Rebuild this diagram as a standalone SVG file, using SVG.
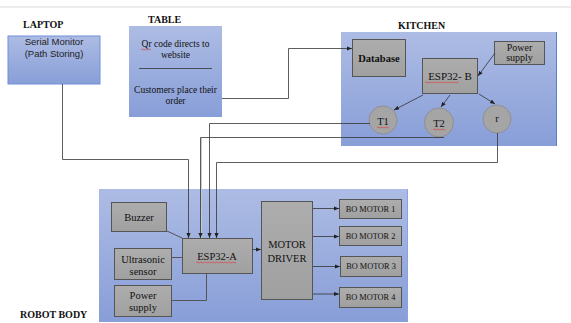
<svg xmlns="http://www.w3.org/2000/svg" width="571" height="323" viewBox="0 0 571 323">
<defs>
<linearGradient id="blue" x1="0" y1="0" x2="0" y2="1">
<stop offset="0" stop-color="#adbce4"/>
<stop offset="1" stop-color="#889ed8"/>
</linearGradient>
<linearGradient id="gray" x1="0" y1="0" x2="0" y2="1">
<stop offset="0" stop-color="#adadad"/>
<stop offset="1" stop-color="#a0a0a0"/>
</linearGradient>
<marker id="arr" viewBox="0 0 6 6" refX="6" refY="3" markerWidth="5" markerHeight="5" orient="auto" markerUnits="userSpaceOnUse">
<path d="M0,0.5 L6,3 L0,5.5 Z" fill="#222"/>
</marker>
<style>
.cont{fill:url(#blue);}
.box{fill:url(#gray);stroke:#555;stroke-width:1;}
.circ{fill:#a5a5a5;stroke:#8f8f8f;stroke-width:1;}
.t{font-family:"Liberation Serif","Times New Roman",serif;fill:#111;text-anchor:middle;}
.s{font-family:"Liberation Sans",Arial,sans-serif;fill:#222;text-anchor:middle;}
.lbl{font-family:"Liberation Serif","Times New Roman",serif;font-weight:bold;font-size:10px;fill:#111;}
.ln{fill:none;stroke:#555;stroke-width:1;}
.ar{fill:none;stroke:#333;stroke-width:0.8;marker-end:url(#arr);}
.sq{fill:none;stroke:#e03030;stroke-width:0.6;}
</style>
</defs>
<rect x="0" y="0" width="571" height="323" fill="#fff"/>
<line x1="0" y1="7" x2="571" y2="7" stroke="#dadada" stroke-width="1.2"/>

<text class="lbl" x="23" y="28">LAPTOP</text>
<text class="lbl" x="148" y="23">TABLE</text>
<text class="lbl" x="398" y="28.5">KITCHEN</text>
<text class="lbl" x="20" y="318">ROBOT BODY</text>

<g id="laptop">
<rect x="8" y="36" width="92" height="48" class="cont" stroke="#7090d8" stroke-width="1"/>
<text class="s" x="54" y="45" font-size="9.5">Serial Monitor</text>
<text class="s" x="54" y="57" font-size="9.5">(Path Storing)</text>
</g>

<g id="table">
<rect x="129" y="26" width="93" height="91" class="cont"/>
<text class="t" x="175.5" y="47" font-size="9.5">Qr code directs to</text>
<text class="t" x="175.5" y="58" font-size="9.5">website</text>
<line x1="139" y1="68.5" x2="212" y2="68.5" stroke="#333" stroke-width="0.8"/>
<text class="t" x="175.5" y="93" font-size="9.5">Customers place their</text>
<text class="t" x="175.5" y="104" font-size="9.5">order</text>
</g>

<g id="kitchen">
<rect x="341" y="32" width="216" height="114" class="cont"/>
<line x1="556.5" y1="32" x2="556.5" y2="146" stroke="#5a7fd0" stroke-width="1"/>
</g>
<g id="database">
<rect x="352.5" y="39.5" width="53" height="37" class="box" stroke="#777"/>
<text class="t" x="379" y="62" font-size="10.5" font-weight="bold">Database</text>
</g>
<g id="esp32b">
<rect x="422.5" y="58.5" width="55" height="35" class="box"/>
<text class="t" x="450" y="80" font-size="11">ESP32- B</text>
</g>
<g id="power-k">
<rect x="494.5" y="41.5" width="50" height="23" class="box"/>
<text class="t" x="519.5" y="50.5" font-size="10">Power</text>
<text class="t" x="519.5" y="61" font-size="10">supply</text>
</g>
<g id="t1">
<circle cx="383" cy="120" r="14" class="circ"/>
<text class="t" x="383" y="125" font-size="10.5">T1</text>
</g>
<g id="t2">
<circle cx="439" cy="122.5" r="14.5" class="circ"/>
<text class="t" x="439" y="127" font-size="10.5">T2</text>
</g>
<g id="r">
<circle cx="497" cy="119" r="14" class="circ"/>
<text class="t" x="497" y="122" font-size="10.5">r</text>
</g>

<g id="robot">
<rect x="99" y="189" width="309" height="133" class="cont"/>
<line x1="407.5" y1="189" x2="407.5" y2="322" stroke="#8aa3de" stroke-width="1"/>
</g>
<g id="buzzer">
<rect x="111.5" y="202.5" width="55" height="29" class="box"/>
<text class="t" x="139" y="220.5" font-size="10.5">Buzzer</text>
</g>
<g id="esp32a">
<rect x="182.5" y="238.5" width="70" height="35" class="box"/>
<text class="t" x="217" y="260" font-size="10.5">ESP32-A</text>
</g>
<g id="ultrasonic">
<rect x="114.5" y="248.5" width="57" height="31" class="box"/>
<text class="t" x="143" y="263" font-size="10.5">Ultrasonic</text>
<text class="t" x="143" y="275" font-size="10.5">sensor</text>
</g>
<g id="power-r">
<rect x="114.5" y="285.5" width="57" height="31" class="box"/>
<text class="t" x="143" y="299" font-size="10.5">Power</text>
<text class="t" x="143" y="310.5" font-size="10.5">supply</text>
</g>
<g id="motordriver">
<rect x="261.5" y="201.5" width="51" height="98" class="box"/>
<text class="t" x="287" y="248" font-size="10.5">MOTOR</text>
<text class="t" x="287" y="262" font-size="10.5">DRIVER</text>
</g>
<g id="bo1">
<rect x="339.5" y="199.5" width="62" height="19" class="box"/>
<text class="t" x="370.5" y="212" font-size="8.3">BO MOTOR 1</text>
</g>
<g id="bo2">
<rect x="339.5" y="226.5" width="62" height="19" class="box"/>
<text class="t" x="370.5" y="239" font-size="8.3">BO MOTOR 2</text>
</g>
<g id="bo3">
<rect x="340.5" y="256.5" width="61" height="20" class="box"/>
<text class="t" x="371" y="269" font-size="8.3">BO MOTOR 3</text>
</g>
<g id="bo4">
<rect x="339.5" y="287.5" width="62" height="20" class="box"/>
<text class="t" x="370.5" y="300" font-size="8.3">BO MOTOR 4</text>
</g>

<g id="connectors">
<path class="ar" d="M222,98.5 H288.5 V48.5 H352"/>
<path class="ar" d="M495,53 L478,76"/>
<path class="ar" d="M423,95 L394,110"/>
<path class="ar" d="M450,95 L441,107"/>
<path class="ar" d="M479,94 L495,104"/>
<path class="ar" d="M62.5,84 V159.5 H188.5 V238"/>
<path class="ar" d="M370,123.5 H209.5 V238"/>
<path d="M201.5,138 V238" fill="none" stroke="#c8c8c8" stroke-width="1"/>
<path class="ar" d="M444,137.5 H200.5 V238"/>
<path class="ar" d="M497.5,133 V162.5 H216.5 V238"/>
<path class="ln" d="M167,231 L182,238"/>
<path class="ln" d="M172,257.5 H182"/>
<path class="ln" d="M172,300.5 H206.5 V273"/>
<path class="ar" d="M252,249.5 H261"/>
<path class="ar" d="M313,208.5 H339"/>
<path class="ar" d="M313,236.5 H339"/>
<path class="ar" d="M313,266.5 H340"/>
<path class="ar" d="M313,294 H339"/>
</g>

<g id="spellcheck">
<path class="sq" d="M141,49.5 q1,-1 2,0 t2,0 t2,0 t2,0 t2,0"/>
<path class="sq" d="M425,82.5 q1,-1 2,0 t2,0 t2,0 t2,0 t2,0 t2,0 t2,0 t2,0 t2,0 t2,0 t2,0 t2,0 t2,0 t2,0 t2,0 t2,0 t2,0"/>
<path class="sq" d="M377,127.5 q1,-1 2,0 t2,0 t2,0 t2,0 t2,0 t2,0"/>
<path class="sq" d="M433,129.5 q1,-1 2,0 t2,0 t2,0 t2,0 t2,0 t2,0"/>
<path class="sq" d="M196,262.5 q1,-1 2,0 t2,0 t2,0 t2,0 t2,0 t2,0 t2,0 t2,0 t2,0 t2,0 t2,0 t2,0 t2,0 t2,0 t2,0 t2,0 t2,0 t2,0 t2,0 t2,0"/>
</g>
</svg>
